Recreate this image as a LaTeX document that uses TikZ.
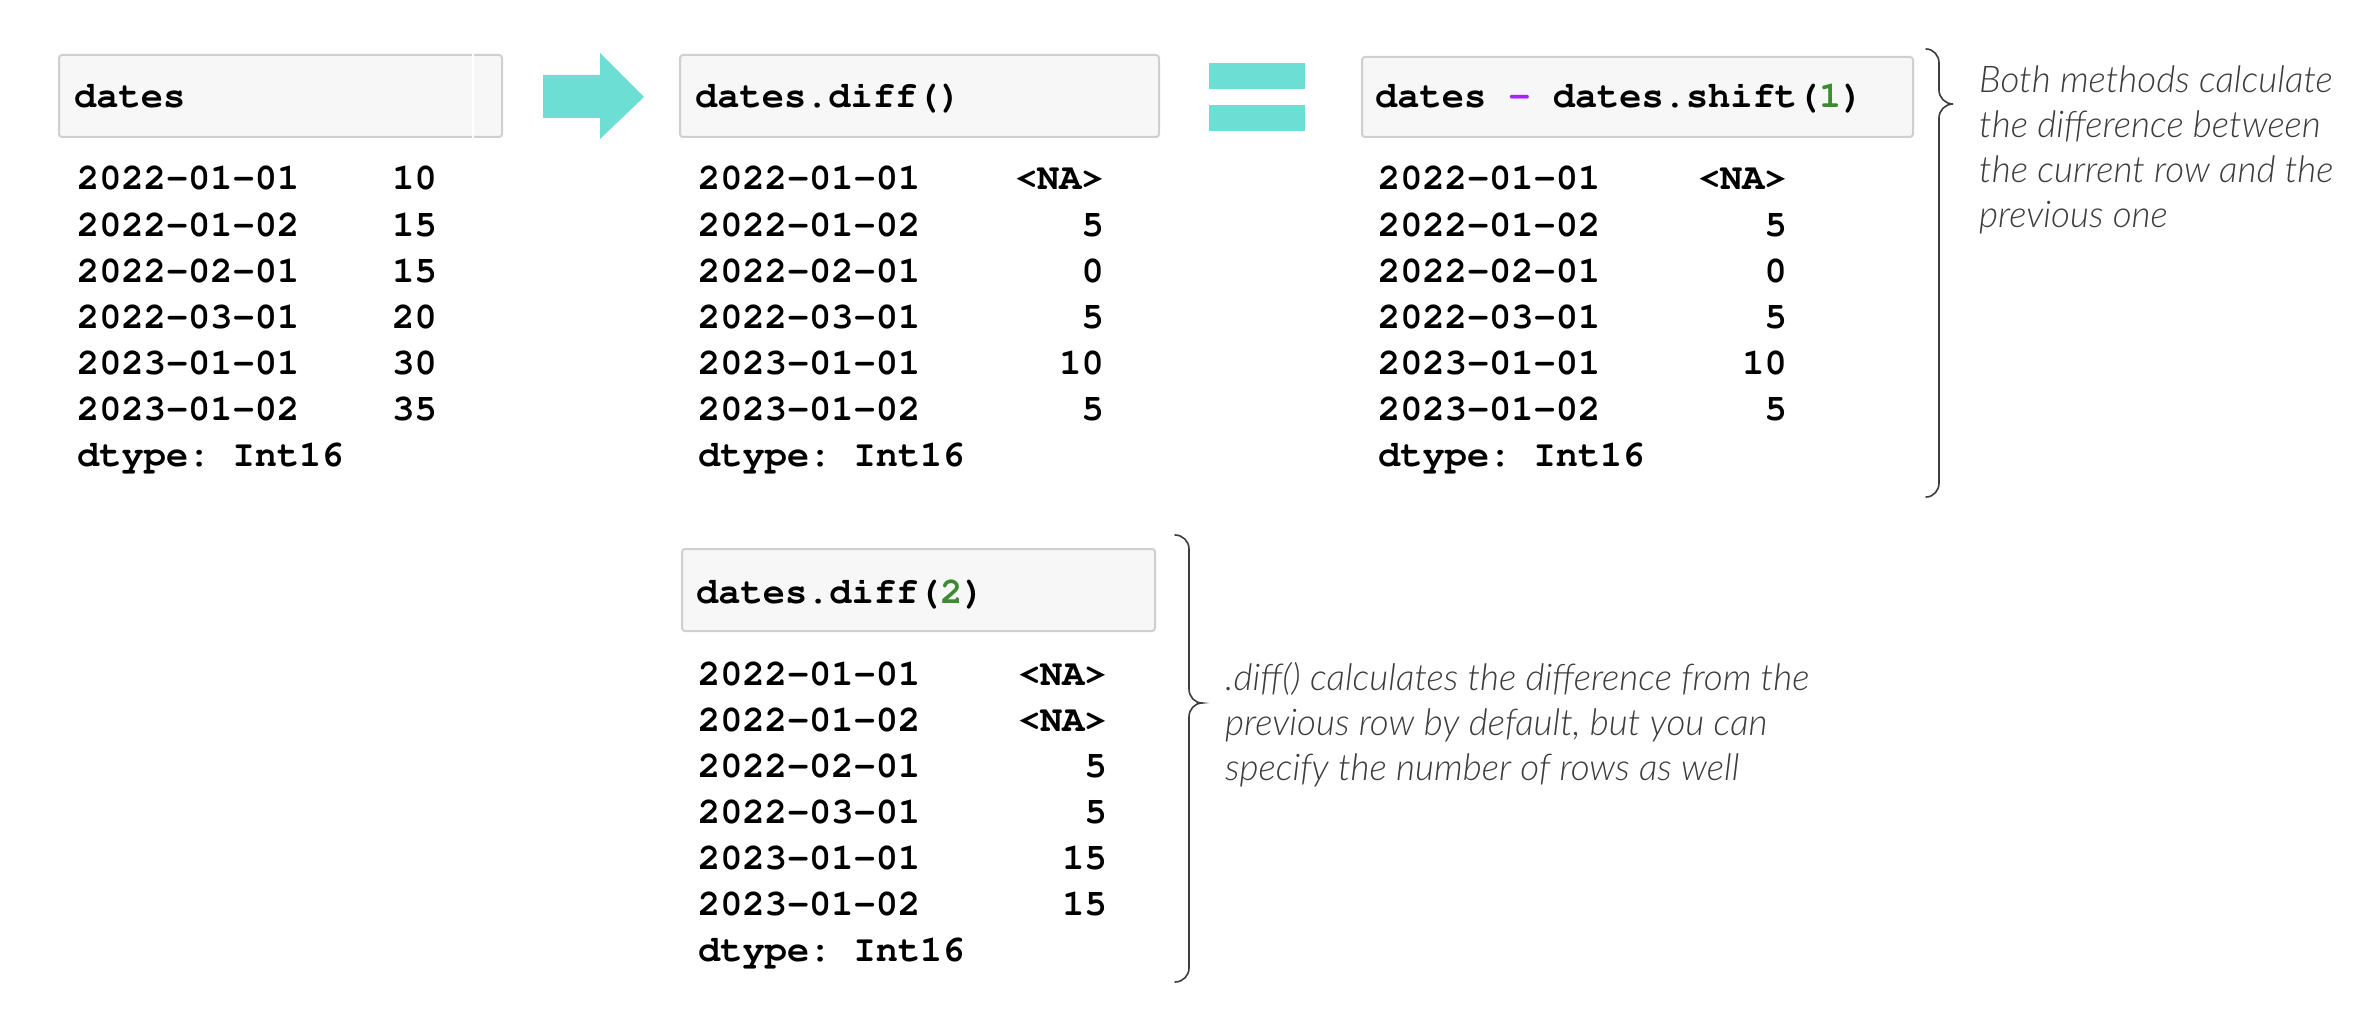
\documentclass[tikz,border=0pt]{standalone}
\usepackage[T1,TU]{fontenc}
\usepackage{fontspec}
\IfFontExistsTF{Lato Light Italic}{\newfontfamily\notefont{Lato Light Italic}}{\IfFontExistsTF{Lato Italic}{\newfontfamily\notefont{Lato Italic}}{\newfontfamily\notefont{Liberation Sans}[FakeSlant=0.2]}}
\newcommand\courb{\fontencoding{T1}\fontfamily{pcr}\fontseries{b}\fontshape{n}\fontsize{37}{46}\selectfont\frenchspacing}
\definecolor{cellbg}{HTML}{F7F7F7}
\definecolor{cellborder}{HTML}{CFCFCF}
\definecolor{turq}{HTML}{6CDED4}
\definecolor{oppurple}{HTML}{AA22FF}
\definecolor{numgreen}{HTML}{3B8B2F}
\definecolor{notegray}{HTML}{3C3C3C}
\tikzset{
  cell/.style={draw=cellborder, fill=cellbg, line width=2pt, rounded corners=3pt, inner sep=0pt, outer sep=0pt, anchor=north west},
  mono/.style={inner sep=0pt, font=\courb, text=black},
  note/.style={inner sep=0pt, font=\notefont\fontsize{36.8}{45}\selectfont, text=notegray, anchor=base west},
  bracestroke/.style={draw=notegray, line width=1.6pt, line cap=round},
  shapefill/.style={fill=turq, draw=none}
}
\begin{document}
\begin{tikzpicture}[x=1pt,y=-1pt]
\useasboundingbox (0,0) rectangle (2376,1024);
% ---------- table 1 ----------
\node[cell, minimum width=443pt, minimum height=82pt] (b1) at (59,55) {};
\draw[white, line width=1.5pt] (b1.north west) ++(414,-1) coordinate (b1d) -- ++(0,84);
\node[mono, anchor=base west] (h1) at (74,108) {dates};
\foreach \d/\v [count=\i from 0] in {2022-01-01/10,2022-01-02/15,2022-02-01/15,2022-03-01/20,2023-01-01/30,2023-01-02/35}{
  \node[mono, anchor=base west] (ta\i) at (77,{190+46.1*\i}) {\d};
  \node[mono, anchor=base east] (va\i) at (437,{190+46.1*\i}) {\v};
}
\node[mono, anchor=base west] (dta) at (77,466.6) {dtype: Int16};
% ---------- arrow ----------
\fill[shapefill] (543,75) -- (600,75) -- (600,53) -- (644,97) -- (600,139) -- (600,118) -- (543,118) -- cycle;
% ---------- table 2 ----------
\node[cell, minimum width=479pt, minimum height=82pt] (b2) at (680,55) {};
\node[mono, anchor=base west] (h2) at (695,108) {dates.diff()};
\foreach \d/\v [count=\i from 0] in {2022-01-01/<NA>,2022-01-02/5,2022-02-01/0,2022-03-01/5,2023-01-01/10,2023-01-02/5}{
  \node[mono, anchor=base west] (tb\i) at (698,{190+46.1*\i}) {\d};
  \node[mono, anchor=base east] (vb\i) at (1104,{190+46.1*\i}) {\v};
}
\node[mono, anchor=base west] (dtb) at (698,466.6) {dtype: Int16};
% ---------- equals ----------
\fill[shapefill] (1209,63) rectangle (1305,89);
\fill[shapefill] (1209,105) rectangle (1305,131);
% ---------- table 3 ----------
\node[cell, minimum width=551pt, minimum height=80pt] (b3) at (1362,57) {};
\node[mono, anchor=base west] (h3) at (1375,108) {dates {\color{oppurple}-} dates.shift({\color{numgreen}1})};
\foreach \d/\v [count=\i from 0] in {2022-01-01/<NA>,2022-01-02/5,2022-02-01/0,2022-03-01/5,2023-01-01/10,2023-01-02/5}{
  \node[mono, anchor=base west] (tc\i) at (1378,{190+46.1*\i}) {\d};
  \node[mono, anchor=base east] (vc\i) at (1787,{190+46.1*\i}) {\v};
}
\node[mono, anchor=base west] (dtc) at (1378,466.6) {dtype: Int16};
% brace 1 and note
\draw[bracestroke] (1926,49) to[out=0,in=90] (1939,63) -- (1939,90) to[out=-90,in=180] (1953,104) to[out=180,in=90] (1939,118) -- (1939,483) to[out=-90,in=0] (1926,497);
\node[note] (n1a) at (1979,93) {Both methods calculate};
\node[note] (n1b) at (1979,138) {the difference between};
\node[note] (n1c) at (1979,183) {the current row and the};
\node[note] (n1d) at (1979,228) {previous one};
% ---------- table 4 ----------
\node[cell, minimum width=473pt, minimum height=82pt] (b4) at (682,549) {};
\node[mono, anchor=base west] (h4) at (696,603) {dates.diff({\color{numgreen}2})};
\foreach \d/\v [count=\i from 0] in {2022-01-01/<NA>,2022-01-02/<NA>,2022-02-01/5,2022-03-01/5,2023-01-01/15,2023-01-02/15}{
  \node[mono, anchor=base west] (td\i) at (698,{685+46*\i}) {\d};
  \node[mono, anchor=base east] (vd\i) at (1107,{685+46*\i}) {\v};
}
\node[mono, anchor=base west] (dtd) at (698,961) {dtype: Int16};
% brace 2 and note
\draw[bracestroke] (1175,535) to[out=0,in=90] (1189,549) -- (1189,689) to[out=-90,in=180] (1202,703) to[out=180,in=90] (1189,717) -- (1189,968) to[out=-90,in=0] (1175,982);
\node[note] (n2a) at (1225,690) {.diff() calculates the difference from the};
\node[note] (n2b) at (1225,735) {previous row by default, but you can};
\node[note] (n2c) at (1225,780) {specify the number of rows as well};
\end{tikzpicture}
\end{document}
